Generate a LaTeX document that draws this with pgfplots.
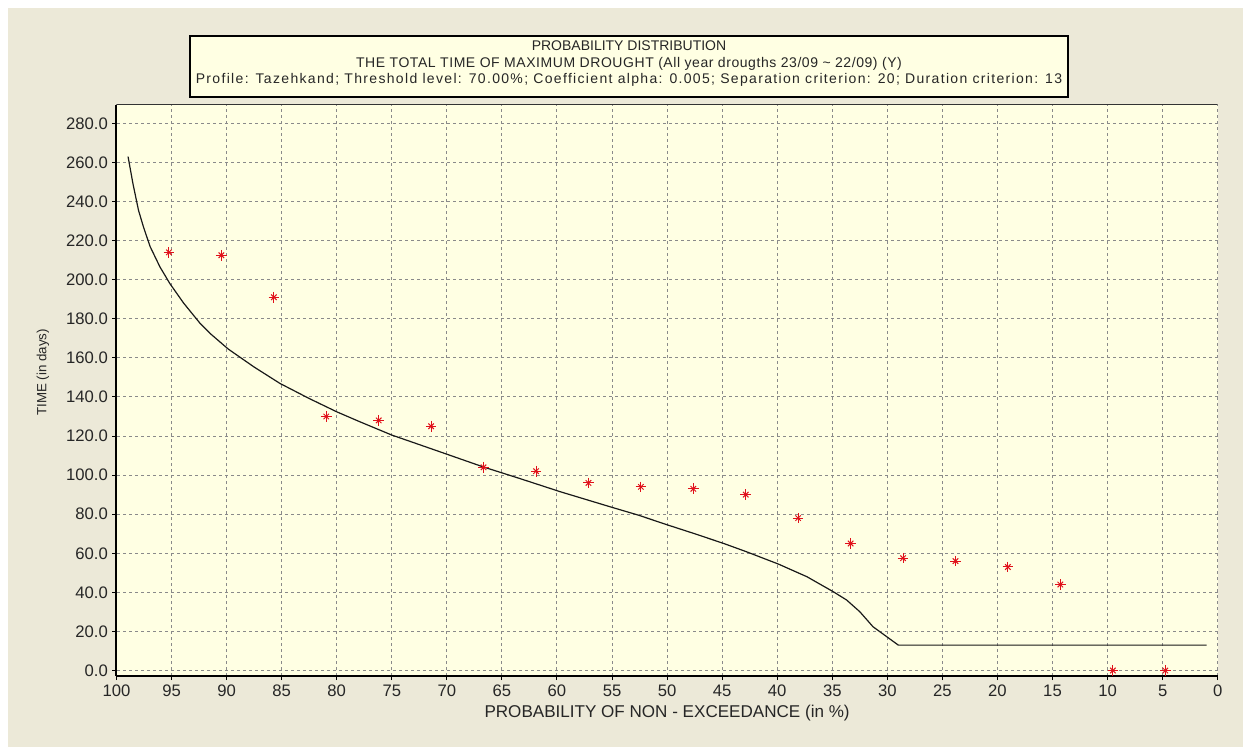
\documentclass[border=0pt]{standalone}
\usepackage{pgfplots}
\pgfplotsset{compat=1.18}
\usepackage{fontspec}
\setmainfont{Liberation Sans}
\newfontfamily\titleA{Liberation Sans}[LetterSpace=4]
\newfontfamily\titleB{Liberation Sans}[LetterSpace=9.5]
\definecolor{bgbeige}{HTML}{ECE9D8}
\definecolor{plotbg}{HTML}{FFFFE3}
\definecolor{gridgray}{HTML}{8A8A8A}
\definecolor{starred}{HTML}{E0101A}

\pgfplotstableread{
p v
98.95 263
98.5 249
98.0 235.5
97.55 227
96.95 217
96.05 206.5
95.15 198
93.9 188
92.4 177.6
91.5 172.5
89.85 164.5
87.5 155.3
85.15 146.9
82.5 139.2
80.0 132.4
77.9 127.3
75.0 120.5
72.75 116.1
70.0 110.7
66.7 104.2
63.4 98.3
59.7 91.5
55.0 83.5
52.6 79.5
49.9 74.4
47.6 70.2
44.9 65.1
42.8 60.8
39.9 54.5
37.3 48.0
34.9 40.3
33.7 36.1
32.5 30.1
31.3 22.4
30.05 17.3
29.0 13
1.0 13
}\curvetable

\pgfplotstableread{
p v
95.24 214
90.48 212.5
85.71 191
80.95 130
76.19 128
71.43 125
66.67 104
61.90 102
57.14 96
52.38 94
47.62 93
42.86 90
38.10 78
33.33 65
28.57 57.5
23.81 56
19.05 53
14.29 44
9.52 0
4.76 0
}\pointtable

\begin{document}
\begin{tikzpicture}[x=0.75pt,y=0.75pt]
\fill[white] (0,0) rectangle (1250,747);
\fill[bgbeige] (8,0) rectangle (1243,739);
\begin{axis}[
  at={(87.375pt,53.25pt)}, anchor=south west,
  scale only axis, width=825.9pt, height=428.25pt,
  xmin=0, xmax=100, ymin=-2.8, ymax=289.4,
  x dir=reverse,
  axis background/.style={fill=plotbg},
  axis x line*=bottom, axis y line*=left,
  axis line style={line width=1.5pt, black},
  xtick={0,5,...,100}, ytick={0,20,...,280},
  tick align=outside, major tick length=3pt,
  tick style={black, line width=0.75pt},
  grid=major,
  major grid style={gridgray, line width=0.75pt, dash pattern=on 2.25pt off 2.25pt},
  /pgf/number format/assume math mode=true,
  yticklabel style={/pgf/number format/.cd, fixed, fixed zerofill, precision=1},
  tick label style={font=\fontsize{12.5}{14}\selectfont, text=black!85},
  xlabel={PROBABILITY OF NON - EXCEEDANCE (in \%)},
  ylabel={TIME (in days)},
  every axis x label/.style={at={(axis description cs:0.5,-0.065)}, anchor=center, font=\fontsize{12.8}{15}\selectfont, text=black!85},
  every axis y label/.style={at={(axis description cs:-0.0667,0.532)}, anchor=center, rotate=90, font=\fontsize{10}{12}\selectfont, text=black!85},
]
\addplot[black!90, line width=0.9pt] table[x=p, y=v] {\curvetable};
\addplot[starred, only marks, mark=+, mark size=4pt, mark options={line width=0.75pt}] table[x=p, y=v] {\pointtable};
\addplot[starred, only marks, mark=x, mark size=2.9pt, mark options={line width=0.75pt}] table[x=p, y=v] {\pointtable};
\draw[black!80, line width=0.75pt] (rel axis cs:0,1) -- (rel axis cs:1,1);
\end{axis}
\filldraw[fill=plotbg, draw=black, line width=1.5pt] (190,650) rectangle (1068,711);
\node[anchor=base, inner sep=0pt, font=\fontsize{10.5}{12}\selectfont, text=black!85] at (629,696) {PROBABILITY DISTRIBUTION};
\node[anchor=base, inner sep=0pt, font=\titleA\fontsize{10.5}{12}\selectfont, text=black!85] at (629,679.5) {THE TOTAL TIME OF MAXIMUM DROUGHT (All year drougths 23/09 \textasciitilde{} 22/09) (Y)};
\node[anchor=base, inner sep=0pt, font=\titleB\fontsize{10.5}{12}\selectfont, text=black!85] at (629,663) {Profile: Tazehkand; Threshold level: 70.00\%; Coefficient alpha: 0.005; Separation criterion: 20; Duration criterion: 13};
\end{tikzpicture}
\end{document}
